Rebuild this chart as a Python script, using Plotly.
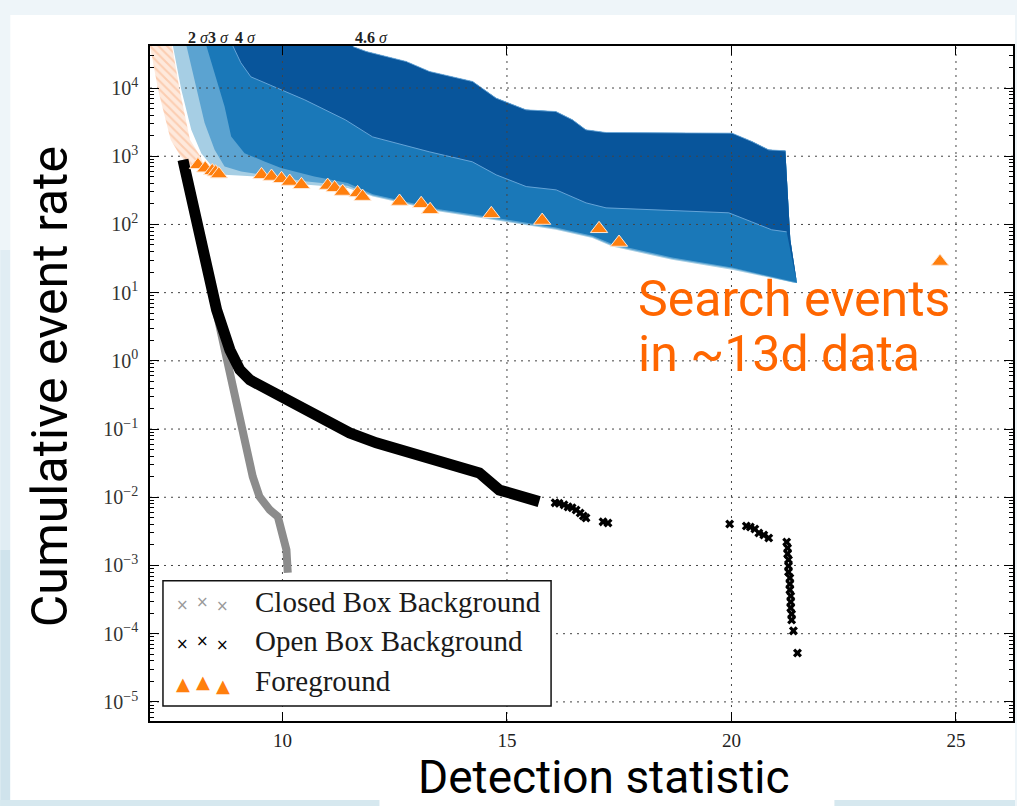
import plotly.graph_objects as go

# ---------------- data ----------------
x_ticks = [10, 15, 20, 25]
y_ticks = [1e-5, 1e-4, 1e-3, 1e-2, 1e-1, 1e0, 1e1, 1e2, 1e3, 1e4]
y_tick_labels = ["10<sup>−5</sup>", "10<sup>−4</sup>", "10<sup>−3</sup>", "10<sup>−2</sup>",
                 "10<sup>−1</sup>", "10<sup>0</sup>", "10<sup>1</sup>", "10<sup>2</sup>",
                 "10<sup>3</sup>", "10<sup>4</sup>"]
x_range = [7.05, 26.27]
y_range_log = [-5.28, 4.616]

sigma_labels = ["2", "3", "4", "4.6"]
sigma_stat = [7.85, 8.30, 8.89, 11.56]

# significance band edges (lower boundary of each shaded band)
edge0_stat = [7.55, 7.747, 7.969, 8.191, 8.489, 8.711, 9.451, 10.562, 11.451, 12.013, 13.496,
              14.978, 16.089, 16.902, 17.347, 18.68, 20.013, 21.422]
edge0_rate = [45000, 9420, 2440, 1110, 632, 533, 504, 381, 341, 257, 155,
              110, 83.4, 63, 47.4, 30.3, 21.6, 13.8]
edge1_stat = [7.85, 8.044, 8.267, 8.489, 8.711, 9.08, 9.6, 10.5, 11.45, 12.013, 13.496,
              14.978, 16.089, 16.902, 17.347, 18.68, 20.013, 21.43]
edge1_rate = [45000, 13180, 3060, 1240, 706, 597, 530, 430, 370, 266, 160,
              114, 86.5, 65.5, 49.3, 31.5, 22.5, 13.9]
edge2_stat = [8.29, 8.489, 8.711, 8.858, 9.156, 9.6, 9.969, 10.711, 11.451, 12.013, 13.496,
              14.978, 16.089, 16.902, 17.347, 18.68, 20.013, 21.435]
edge2_rate = [45000, 16500, 5360, 1950, 1110, 836, 670, 504, 404, 278, 167,
              118, 90, 68, 51.5, 32.8, 23.3, 14.2]
edge3_stat = [8.87, 9.073, 9.296, 9.607, 9.962, 10.496, 11.40, 12.007, 13.273, 14.229, 14.762,
              15.429, 16.096, 16.762, 17.207, 19.94, 20.451, 20.896, 21.229, 21.45]
edge3_rate = [45000, 23440, 14590, 11910, 9420, 6710, 3420, 1920, 1160, 828, 533,
              359, 321, 207, 175, 148, 109, 83.4, 77.8, 13.9]
top_stat = [7.0, 11.5, 11.569, 11.867, 12.756, 13.273, 14.236, 14.756, 15.422, 16.089, 16.458,
            16.756, 17.2, 20.013, 20.458, 20.829, 21.2, 21.311, 21.458]
top_rate = [45000, 45000, 40500, 34300, 24500, 17500, 12450, 7110, 4790, 4520, 3420,
            2440, 2230, 2180, 1640, 1240, 1200, 59.4, 13.8]
band_colors = ["#a6cee4", "#5ba3d1", "#1a78b8", "#08559b"]

# dense low-statistic foreground cloud (outline)
cloud_stat = [7.04, 7.53, 7.71, 7.94, 8.17, 8.24, 8.00, 7.73, 7.51, 7.23]
cloud_rate = [45000, 45000, 9420, 1740, 1000, 780, 680, 1000, 1740, 9420]

# foreground (search events)
fg_stat = [8.118, 8.280, 8.436, 8.511, 8.584, 9.533, 9.756, 9.978, 10.162, 10.422, 11.007,
           11.162, 11.340, 11.673, 11.784, 12.607, 13.089, 13.289, 14.651, 15.784, 17.051,
           17.496, 24.644]
fg_rate = [748, 668, 611, 585, 547, 533, 504, 467, 426, 381, 372,
           344, 304, 290, 256, 217, 201, 164, 143, 114, 86.3,
           54.3, 28.6]

# open box background: dense part and sparse tail
open_stat = [7.784, 8.229, 8.533, 8.829, 9.051, 9.273, 10.007, 10.607, 11.051, 11.496, 12.089,
             12.673, 13.118, 13.422, 14.089, 14.384, 14.829, 15.2, 15.718]
open_rate = [885, 42.4, 5.60, 1.45, 0.738, 0.526, 0.300, 0.191, 0.123, 0.0879, 0.0627,
             0.0495, 0.0395, 0.0334, 0.0270, 0.0228, 0.0128, 0.0108, 0.00863]
open_tail_stat = [16.073, 16.16, 16.27, 16.36, 16.45, 16.54, 16.63, 16.70, 16.76, 17.14, 17.25,
                  19.96, 20.33, 20.42, 20.52, 20.61, 20.72, 20.83, 21.23, 21.25, 21.25,
                  21.27, 21.27, 21.27, 21.30, 21.30, 21.30, 21.32, 21.32, 21.32, 21.34,
                  21.34, 21.38, 21.47]
open_tail_rate = [8.28e-3, 8.15e-3, 7.74e-3, 7.23e-3, 7.0e-3, 6.53e-3, 5.90e-3, 5.33e-3, 4.99e-3,
                  4.36e-3, 4.21e-3, 4.07e-3, 3.80e-3, 3.67e-3, 3.43e-3, 3.00e-3, 2.80e-3, 2.53e-3,
                  2.21e-3, 1.81e-3, 1.48e-3, 1.21e-3, 9.86e-4, 8.05e-4, 6.58e-4, 5.37e-4, 4.39e-4,
                  3.58e-4, 2.92e-4, 2.39e-4, 1.95e-4, 1.59e-4, 1.10e-4, 5.22e-5]

# closed box background
closed_stat = [7.784, 8.229, 8.533, 8.673, 8.896, 9.051, 9.2, 9.338, 9.489, 9.718, 9.896,
               10.007, 10.089, 10.118]
closed_rate = [885, 42.4, 5.60, 1.84, 0.476, 0.152, 0.0495, 0.0201, 0.0102, 0.00653, 0.00521,
               0.00301, 0.00169, 0.00078]

legend_labels = ["Closed Box Background", "Open Box Background", "Foreground"]

# ---------------- figure ----------------
W, H = 1017, 806
ML, MR, MT, MB = 150, 2, 46, 85
PW, PH = W - ML - MR, H - MT - MB


def px(xp):
    return (xp - ML) / PW


def py(yp):
    return (H - MB - yp) / PH


fig = go.Figure()

edges = [(edge0_stat, edge0_rate), (edge1_stat, edge1_rate),
         (edge2_stat, edge2_rate), (edge3_stat, edge3_rate)]
for (ex, ey), col in zip(edges, band_colors):
    fig.add_trace(go.Scatter(
        x=list(ex) + top_stat[::-1], y=list(ey) + top_rate[::-1],
        mode="lines", fill="toself", fillcolor=col, line=dict(width=0),
        hoverinfo="skip", showlegend=False))

# faint light edges between dark band boundaries
fig.add_trace(go.Scatter(x=edge3_stat[:-1], y=edge3_rate[:-1], mode="lines",
                         line=dict(color="rgba(110,170,220,0.9)", width=1),
                         hoverinfo="skip", showlegend=False))
fig.add_trace(go.Scatter(x=top_stat[2:-2], y=top_rate[2:-2], mode="lines",
                         line=dict(color="rgba(120,175,220,0.8)", width=1),
                         hoverinfo="skip", showlegend=False))

# grid lines drawn above the bands
gx, gy = [], []
ylo, yhi = 10 ** y_range_log[0], 10 ** y_range_log[1]
for t in x_ticks:
    gx += [t, t, None]
    gy += [ylo, yhi, None]
for t in y_ticks:
    gx += [x_range[0], x_range[1], None]
    gy += [t, t, None]
fig.add_trace(go.Scatter(x=gx, y=gy, mode="lines",
                         line=dict(color="#444444", width=1, dash="2px,5px"),
                         hoverinfo="skip", showlegend=False))

# foreground cloud
fig.add_trace(go.Scatter(
    x=cloud_stat + cloud_stat[:1], y=cloud_rate + cloud_rate[:1], mode="lines",
    fill="toself", fillcolor="#fde3d2", line=dict(width=0),
    fillpattern=dict(shape="\\", fgcolor="#f9b287", bgcolor="#fee9dc", size=6, solidity=0.35),
    hoverinfo="skip", showlegend=False))

# backgrounds
fig.add_trace(go.Scatter(x=closed_stat, y=closed_rate, mode="lines",
                         line=dict(color="#8c8c8c", width=8),
                         name=legend_labels[0], showlegend=False))
fig.add_trace(go.Scatter(x=open_stat, y=open_rate, mode="lines",
                         line=dict(color="black", width=11),
                         name=legend_labels[1], showlegend=False))
fig.add_trace(go.Scatter(x=open_tail_stat, y=open_tail_rate, mode="markers",
                         marker=dict(symbol="x", size=8, color="black"),
                         name=legend_labels[1], showlegend=False))

# foreground
fig.add_trace(go.Scatter(x=fg_stat, y=fg_rate, mode="markers",
                         marker=dict(symbol="triangle-up", size=15, color="#ff7f0e",
                                     line=dict(color="#ffe6d2", width=1)),
                         name=legend_labels[2], showlegend=False))

serif = "Liberation Serif"
sans = "Roboto"

annotations = []
# sigma labels at top
for lab, xs in zip(sigma_labels, sigma_stat):
    annotations.append(dict(x=xs, y=1, xref="x", yref="paper", xanchor="left", yanchor="bottom",
                            yshift=-2, showarrow=False,
                            text="<b>%s</b> <i>σ</i>" % lab,
                            font=dict(family=serif, size=16, color="#222")))

# legend (custom, matplotlib style)
leg_rows = [601.7, 640.5, 680.5]
glyphs = [("×", "#999999", 15, "DejaVu Sans"), ("×", "#000000", 15, "DejaVu Sans"),
          ("▲", "#ff7f0e", 18, "DejaVu Sans")]
offs = [-1, 1.5, -2.5]
for lab, yr, (g, gc, gs, gf) in zip(legend_labels, leg_rows, glyphs):
    annotations.append(dict(x=px(253), y=py(yr), xref="paper", yref="paper", xanchor="left",
                            yanchor="middle", showarrow=False, text=lab,
                            font=dict(family=serif, size=29, color="#1a1a1a")))
    for gxp, off in zip([183, 203, 223], offs):
        annotations.append(dict(x=px(gxp), y=py(yr + 2), xref="paper", yref="paper",
                                xanchor="center", yanchor="middle", yshift=off,
                                showarrow=False, text=g,
                                font=dict(family=gf, size=gs, color=gc)))

# axis titles and slide text
annotations.append(dict(x=px(50), y=py(387), xref="paper", yref="paper", textangle=-90,
                        xanchor="center", yanchor="middle", showarrow=False,
                        text="Cumulative event rate", font=dict(family=sans, size=50, color="black")))
annotations.append(dict(x=px(605), y=py(777), xref="paper", yref="paper",
                        xanchor="center", yanchor="middle", showarrow=False,
                        text="Detection statistic", font=dict(family=sans, size=46, color="black")))
annotations.append(dict(x=px(637), y=py(299), xref="paper", yref="paper",
                        xanchor="left", yanchor="middle", showarrow=False,
                        text="Search events", font=dict(family=sans, size=50, color="#ff6600")))
annotations.append(dict(x=px(637), y=py(354), xref="paper", yref="paper",
                        xanchor="left", yanchor="middle", showarrow=False,
                        text="in ~13d data", font=dict(family=sans, size=50, color="#ff6600")))

shapes = [
    # slide background pieces
    dict(type="rect", xref="paper", yref="paper", x0=px(0), x1=px(10), y0=py(550), y1=py(250),
         fillcolor="#e0edf3", line=dict(width=0), layer="below"),
    dict(type="rect", xref="paper", yref="paper", x0=px(0), x1=px(10), y0=py(806), y1=py(550),
         fillcolor="#cfe3ec", line=dict(width=0), layer="below"),
    dict(type="rect", xref="paper", yref="paper", x0=px(0), x1=px(1017), y0=py(806), y1=py(800),
         fillcolor="#d6e8ef", line=dict(width=0), layer="below"),
    dict(type="rect", xref="paper", yref="paper", x0=px(10), x1=px(1017), y0=py(800), y1=py(15),
         fillcolor="white", line=dict(width=0), layer="below"),
    dict(type="rect", xref="paper", yref="paper", x0=px(380), x1=px(836), y0=py(806), y1=py(795),
         fillcolor="white", line=dict(width=0), layer="below"),
    # legend box
    dict(type="rect", xref="paper", yref="paper", x0=px(163), x1=px(552), y0=py(706), y1=py(580.7),
         fillcolor="white", line=dict(color="#111", width=1.5), layer="above"),
]

fig.update_layout(
    width=W, height=H, margin=dict(l=ML, r=MR, t=MT, b=MB),
    paper_bgcolor="#eef5f9", plot_bgcolor="white",
    showlegend=False, annotations=annotations, shapes=shapes,
    xaxis=dict(range=x_range, tickmode="array", tickvals=x_ticks,
               ticks="inside", ticklen=9, tickwidth=1.2, tickcolor="black",
               showline=True, linecolor="black", linewidth=1.5, mirror="ticks",
               showgrid=False, zeroline=False, ticklabelstandoff=1,
               tickfont=dict(family=serif, size=19, color="#222")),
    yaxis=dict(type="log", range=y_range_log, tickmode="array", tickvals=y_ticks,
               ticktext=y_tick_labels,
               ticks="inside", ticklen=9, tickwidth=1.2, tickcolor="black",
               minor=dict(dtick="D1", ticks="inside", ticklen=4.5, tickwidth=1,
                          tickcolor="black", showgrid=False),
               showline=True, linecolor="black", linewidth=1.5, mirror="ticks",
               showgrid=False, zeroline=False, ticklabelstandoff=6,
               tickfont=dict(family=serif, size=20, color="#333")),
)

fig.write_html("out.html")
